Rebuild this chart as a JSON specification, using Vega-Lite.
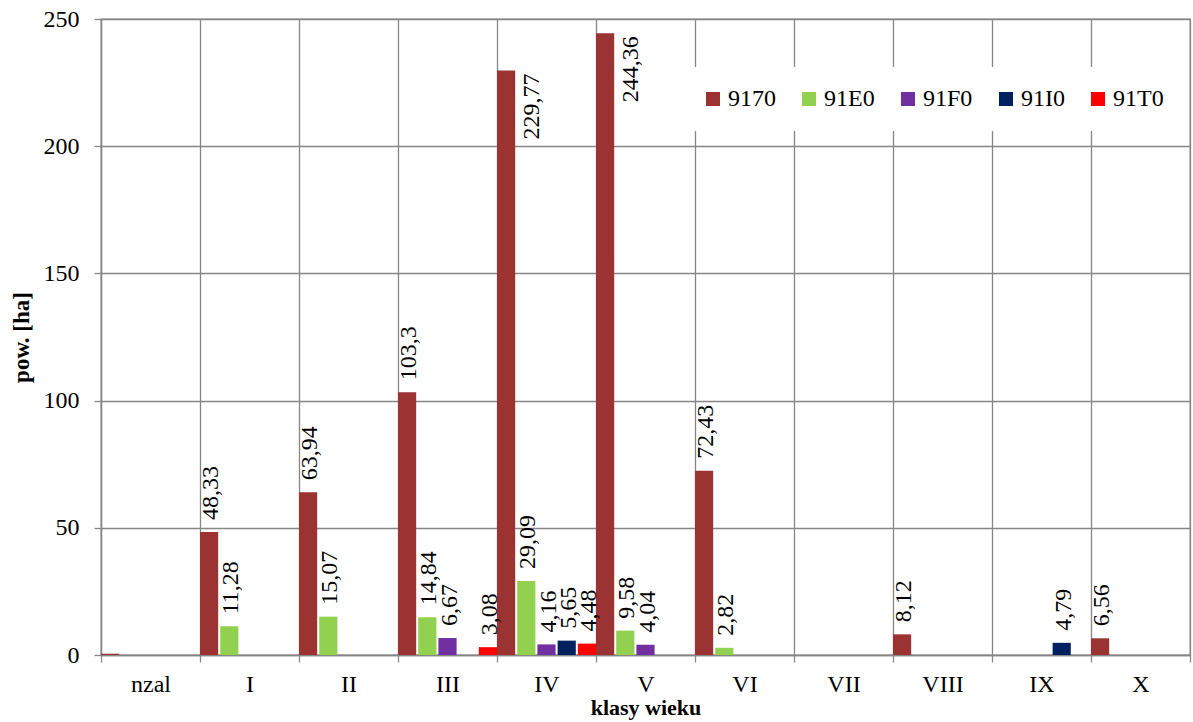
{
  "$schema": "https://vega.github.io/schema/vega-lite/v6.json",
  "width": 1089,
  "height": 636,
  "autosize": {"type": "none"},
  "padding": {"left": 101, "top": 19, "right": 3, "bottom": 67},
  "background": "white",
  "config": {
    "font": "Liberation Serif",
    "view": {"stroke": "#868686", "strokeWidth": 1.3},
    "locale": {"number": {"decimal": ",", "thousands": "\u00a0", "grouping": [3], "currency": ["", " zł"]}},
    "axis": {
      "labelFont": "Liberation Serif",
      "titleFont": "Liberation Serif",
      "labelColor": "black",
      "titleColor": "black",
      "gridColor": "#868686",
      "gridWidth": 1.3,
      "gridOpacity": 1,
      "domainColor": "#868686",
      "domainWidth": 1.3,
      "tickColor": "#868686",
      "tickWidth": 1.3
    }
  },
  "data": {
    "values": [
      {"klasa": "nzal", "typ": "9170", "v": 0.5},
      {"klasa": "I", "typ": "9170", "v": 48.33},
      {"klasa": "I", "typ": "91E0", "v": 11.28},
      {"klasa": "II", "typ": "9170", "v": 63.94},
      {"klasa": "II", "typ": "91E0", "v": 15.07},
      {"klasa": "III", "typ": "9170", "v": 103.3},
      {"klasa": "III", "typ": "91E0", "v": 14.84},
      {"klasa": "III", "typ": "91F0", "v": 6.67},
      {"klasa": "III", "typ": "91T0", "v": 3.08},
      {"klasa": "IV", "typ": "9170", "v": 229.77},
      {"klasa": "IV", "typ": "91E0", "v": 29.09},
      {"klasa": "IV", "typ": "91F0", "v": 4.16},
      {"klasa": "IV", "typ": "91I0", "v": 5.65},
      {"klasa": "IV", "typ": "91T0", "v": 4.48},
      {"klasa": "V", "typ": "9170", "v": 244.36},
      {"klasa": "V", "typ": "91E0", "v": 9.58},
      {"klasa": "V", "typ": "91F0", "v": 4.04},
      {"klasa": "VI", "typ": "9170", "v": 72.43},
      {"klasa": "VI", "typ": "91E0", "v": 2.82},
      {"klasa": "VIII", "typ": "9170", "v": 8.12},
      {"klasa": "IX", "typ": "91I0", "v": 4.79},
      {"klasa": "X", "typ": "9170", "v": 6.56}
    ]
  },
  "encoding": {
    "x": {
      "field": "klasa",
      "type": "nominal",
      "scale": {"domain": ["nzal", "I", "II", "III", "IV", "V", "VI", "VII", "VIII", "IX", "X"], "paddingInner": 0, "paddingOuter": 0},
      "axis": {
        "title": "klasy wieku",
        "titleFontSize": 22,
        "titleFontWeight": "bold",
        "titlePadding": 1,
        "labelAngle": 0,
        "labelFontSize": 24,
        "labelPadding": 10,
        "tickBand": "extent",
        "grid": true,
        "ticks": true,
        "tickSize": 7,
        "domain": true
      }
    },
    "xOffset": {
      "field": "typ",
      "type": "nominal",
      "scale": {"domain": ["9170", "91E0", "91F0", "91I0", "91T0"], "paddingInner": 0.1, "paddingOuter": 0}
    },
    "y": {
      "field": "v",
      "type": "quantitative",
      "scale": {"domain": [0, 250], "nice": false},
      "axis": {
        "title": "pow. [ha]",
        "titleFontSize": 23,
        "titleFontWeight": "bold",
        "titlePadding": 10,
        "values": [0, 50, 100, 150, 200, 250],
        "labelFontSize": 24,
        "labelPadding": 15,
        "tickSize": 7,
        "grid": true,
        "domain": true
      }
    }
  },
  "layer": [
    {
      "mark": {"type": "bar"},
      "encoding": {
        "color": {
          "field": "typ",
          "type": "nominal",
          "scale": {"domain": ["9170", "91E0", "91F0", "91I0", "91T0"], "range": ["#9b3333", "#92d050", "#7030a0", "#002060", "#ff0000"]},
          "legend": {
            "title": null,
            "orient": "none",
            "legendX": 580,
            "legendY": 48,
            "direction": "horizontal",
            "columns": 5,
            "symbolType": "square",
            "symbolSize": 196,
            "symbolStrokeWidth": 0,
            "labelFont": "Liberation Serif",
            "labelFontSize": 24,
            "labelColor": "black",
            "labelOffset": 3,
            "columnPadding": 21,
            "padding": 20,
            "fillColor": "white"
          }
        }
      }
    },
    {
      "transform": [{"filter": "datum.v > 1 && datum.v < 200"}],
      "mark": {"type": "text", "font": "Liberation Serif", "angle": 270, "align": "left", "baseline": "middle", "dx": 12, "dy": 2, "fontSize": 24, "color": "black"},
      "encoding": {
        "text": {"field": "v", "type": "quantitative", "format": "~r"}
      }
    },
    {
      "transform": [{"filter": "datum.v >= 200"}],
      "mark": {"type": "text", "font": "Liberation Serif", "angle": 270, "align": "right", "baseline": "middle", "dx": -3, "dy": 26, "fontSize": 24, "color": "black"},
      "encoding": {
        "text": {"field": "v", "type": "quantitative", "format": "~r"}
      }
    }
  ]
}
